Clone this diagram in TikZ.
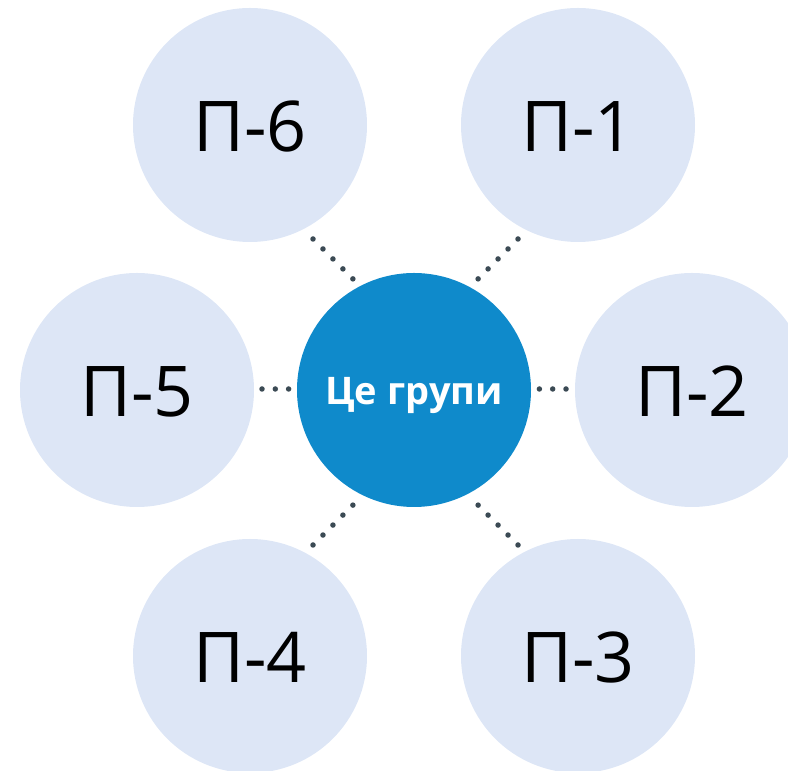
\documentclass[tikz,border=0pt]{standalone}
\usepackage{fontspec}
\setmainfont{Open Sans}
\definecolor{petal}{HTML}{DDE6F6}
\definecolor{hub}{HTML}{0F8ACB}
\definecolor{dotc}{HTML}{3B4A54}
\begin{document}
\begin{tikzpicture}[x=1pt,y=1pt,
  petalc/.style={circle,fill=petal,minimum size=234pt,inner sep=0pt},
  hubc/.style={circle,fill=hub,minimum size=234pt,inner sep=0pt},
  petaltxt/.style={anchor=base,font=\fontsize{70}{70}\selectfont,text=black,inner sep=0pt},
  hubtxt/.style={anchor=base,font=\bfseries\fontsize{38}{38}\selectfont,text=white,inner sep=0pt},
  dotline/.style={draw=dotc,line width=5.5pt,line cap=round,dash pattern=on 0pt off #1},
  dotline/.default=14.1pt]
\useasboundingbox (0,0) rectangle (788,771);
\clip (0,0) rectangle (788,771);
% circles (image y -> 771-y)
\node[hubc] (c) at (414,381) {};
\node[petalc] (p6) at (250,646) {};
\node[petalc] (p1) at (578,646) {};
\node[petalc] (p5) at (137,381) {};
\node[petalc] (p2) at (692,381) {};
\node[petalc] (p4) at (250,115) {};
\node[petalc] (p3) at (578,115) {};
% texts
\node[hubtxt] (tc) at ([yshift=-15pt]c.center) {Це групи};
\node[petaltxt] (t6) at ([yshift=-27pt]p6.center) {П-6};
\node[petaltxt] (t1) at ([yshift=-27pt]p1.center) {П-1};
\node[petaltxt] (t5) at ([yshift=-27pt]p5.center) {П-5};
\node[petaltxt] (t2) at ([yshift=-27pt]p2.center) {П-2};
\node[petaltxt] (t4) at ([yshift=-27pt]p4.center) {П-4};
\node[petaltxt] (t3) at ([yshift=-27pt]p3.center) {П-3};
% connector end points
\coordinate (a6) at (313,532); \coordinate (b6) at (353,492);
\coordinate (a1) at (518,532); \coordinate (b1) at (478,492);
\coordinate (a4) at (313,226); \coordinate (b4) at (353,266);
\coordinate (a3) at (518,226); \coordinate (b3) at (478,266);
\coordinate (a5) at (262,382); \coordinate (b5) at (289,382);
\coordinate (a2) at (566,382); \coordinate (b2) at (539,382);
\draw[dotline] (a6) -- (b6);
\draw[dotline] (a1) -- (b1);
\draw[dotline] (a4) -- (b4);
\draw[dotline] (a3) -- (b3);
\draw[dotline=13.3pt] (a5) -- (b5);
\draw[dotline=13.3pt] (a2) -- (b2);
\end{tikzpicture}
\end{document}
